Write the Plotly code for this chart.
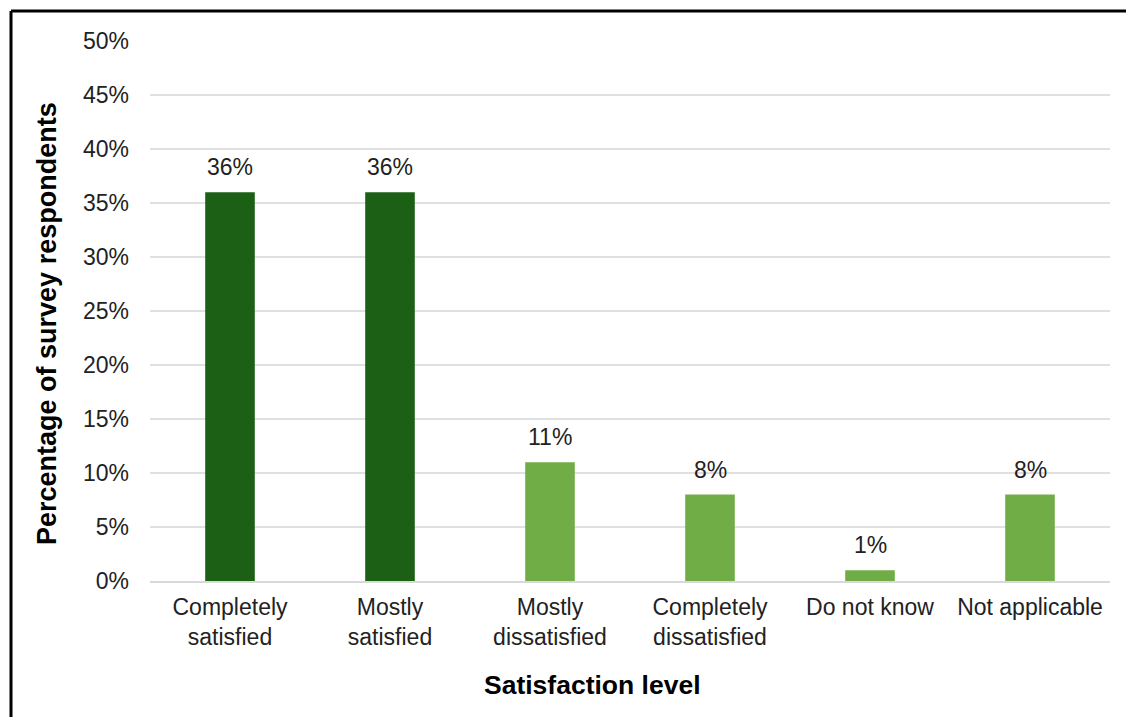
import plotly.graph_objects as go

categories = ["Completely<br>satisfied", "Mostly<br>satisfied", "Mostly<br>dissatisfied",
              "Completely<br>dissatisfied", "Do not know", "Not applicable"]
percentages = [36, 36, 11, 8, 1, 8]
bar_colors = ["#1b6015", "#1b6015", "#70ad47", "#70ad47", "#70ad47", "#70ad47"]
x_title = "Satisfaction level"
y_title = "Percentage of survey respondents"

W, H = 1126, 717
ml, mr, mt, mb = 150, 16, 41, 136
pw, ph = W - ml - mr, H - mt - mb
FS = 23


def px_x(p):
    return (p - ml) / pw


def px_y(p):
    return 1 - (p - mt) / ph


fig = go.Figure(go.Bar(
    x=categories,
    y=percentages,
    marker=dict(color=bar_colors, line=dict(width=0)),
    width=0.31,
))

# value labels above each bar
for c, v in zip(categories, percentages):
    fig.add_annotation(x=c, y=v, text=f"{v}%", showarrow=False,
                       yanchor="bottom", yshift=10,
                       font=dict(size=FS, color="#222222"))

# axis titles
fig.add_annotation(xref="paper", yref="paper", x=px_x(592), y=px_y(685),
                   text=f"<b>{x_title}</b>", showarrow=False,
                   xanchor="center", yanchor="middle",
                   font=dict(size=26.5, color="black"))
fig.add_annotation(xref="paper", yref="paper", x=px_x(47), y=px_y(324),
                   text=f"<b>{y_title}</b>", showarrow=False, textangle=-90,
                   xanchor="center", yanchor="middle",
                   font=dict(size=27, color="black"))

# outer frame (left and top edges)
bx = px_x(11)
by = px_y(11)
fig.add_shape(type="line", xref="paper", yref="paper", x0=bx, x1=1 + (mr + 5) / pw,
              y0=by, y1=by, line=dict(color="black", width=3))
fig.add_shape(type="line", xref="paper", yref="paper", x0=bx, x1=bx,
              y0=by, y1=-(mb + 5) / ph, line=dict(color="black", width=3))

fig.update_layout(
    width=W, height=H,
    margin=dict(l=ml, r=mr, t=mt, b=mb),
    paper_bgcolor="white", plot_bgcolor="white",
    font=dict(family="Liberation Sans, Arial, sans-serif", size=FS, color="#222222"),
    showlegend=False,
    bargap=0.69,
    xaxis=dict(
        showline=True, linecolor="#d9d9d9", linewidth=1.5,
        ticks="", ticklabelstandoff=5, tickfont=dict(size=FS, color="#222222"),
    ),
    yaxis=dict(
        range=[0, 50], dtick=5, ticksuffix="%",
        showgrid=True, gridcolor="#e0e0e0", gridwidth=1.5,
        zeroline=False, ticks="", ticklabelstandoff=20,
        tickfont=dict(size=FS, color="#222222"),
    ),
)

fig.write_html("out.html")
